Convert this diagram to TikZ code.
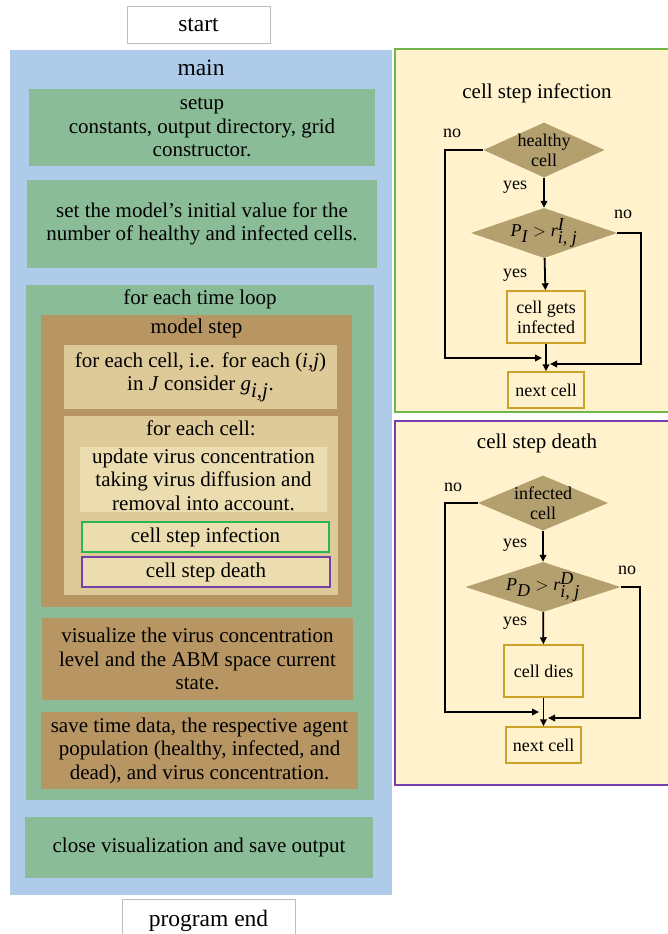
\documentclass[tikz,border=0pt]{standalone}
\usepackage{fontspec}
\setmainfont{Liberation Serif}
\usepackage{xcolor}
\usepackage{tikz}
\usetikzlibrary{positioning, arrows.meta, shapes.geometric}
\definecolor{mainblue}{RGB}{174,204,233}
\definecolor{loopgreen}{RGB}{139,188,152}
\definecolor{stepbrown}{RGB}{183,150,100}
\definecolor{tanlight}{RGB}{222,201,152}
\definecolor{tanpale}{RGB}{236,221,176}
\definecolor{panelcream}{RGB}{255,242,204}
\definecolor{diabrown}{RGB}{180,160,110}
\definecolor{boxgold}{RGB}{204,162,40}
\definecolor{infgreen}{RGB}{112,182,70}
\definecolor{callgreen}{RGB}{40,182,80}
\definecolor{deathpurple}{RGB}{118,64,170}
\definecolor{termgray}{RGB}{190,190,190}
\newcommand{\vit}[1]{\textit{#1}}

\begin{document}
\begin{tikzpicture}[x=1pt, y=-1pt,
  txt/.style={font=\fontsize{21}{23.5}\selectfont, align=center, inner sep=0pt},
  big/.style={font=\fontsize{23.5}{26}\selectfont, align=center, inner sep=0pt},
  sml/.style={font=\fontsize{18}{20}\selectfont, align=center, inner sep=0pt},
  wh/.style 2 args={minimum width=#1, minimum height=#2},
  term/.style={big, draw=termgray, line width=1pt, fill=white},
  grn/.style={txt, fill=loopgreen},
  brn/.style={txt, fill=stepbrown},
  tan/.style={txt, fill=tanlight},
  pale/.style={txt, fill=tanpale},
  panel/.style={fill=panelcream, line width=2pt},
  dia/.style={diamond, fill=diabrown, inner sep=0pt},
  res/.style={sml, draw=boxgold, line width=1.5pt, fill=panelcream},
  flow/.style={line width=1.8pt, -{Triangle[length=7pt, width=6.5pt]}}]
\useasboundingbox (0,0) rectangle (667,934);

% left column: main program
\node[term, wh={143}{37}] (start) at (198.5,25.5) {start};
\node[fill=mainblue, wh={382}{845}] (mainbox) at (201,472.5) {};
\node[big] (maintitle) at (201,68) {main};
\node[grn, wh={346}{77}] (setup) at (202,127.5) {setup\\constants, output directory, grid\\constructor.};
\node[grn, wh={350}{88}] (init) at (202,224) {set the model's initial value for the\\number of healthy and infected cells.};

\node[grn, wh={348}{515}] (loop) at (200,542.5) {};
\node[txt] (looptitle) at (200,299) {for each time loop};
\node[brn, wh={311}{292}] (mstep) at (196.5,461) {};
\node[txt] (msteptitle) at (196.5,328) {model step};
\node[tan, wh={273}{64}] (eachij) at (200.5,377) {for each cell, i.e. for each (\vit{i},\vit{j})\\in \vit{J} consider $\vit{g}_{\vit{i,j}}$.};
\node[tan, wh={274}{179}] (eachcell) at (201,505.5) {};
\node[txt] (eachtitle) at (201,428) {for each cell:};
\node[pale, wh={247}{65}] (update) at (203.5,479.5) {update virus concentration\\taking virus diffusion and\\removal into account.};
\node[pale, draw=callgreen, line width=1.2pt, wh={247}{30}] (callinf) at (205.5,537) {cell step infection};
\node[pale, draw=deathpurple, line width=1.2pt, wh={248}{30}] (calldeath) at (206,572) {cell step death};
\node[brn, wh={311}{82}] (visual) at (197.5,659) {visualize the virus concentration\\level and the ABM space current\\state.};
\node[brn, wh={317}{77}] (savedata) at (199.5,750.5) {save time data, the respective agent\\population (healthy, infected, and\\dead), and virus concentration.};
\node[grn, wh={348}{61}] (closeout) at (199,847.5) {close visualization and save output};
\node[term, wh={173}{44}] (progend) at (208.5,921) {program end};

% right column: cell step infection
\node[panel, draw=infgreen, wh={277}{363}] (infpanel) at (533.5,230.5) {};
\node[txt] (inftitle) at (537,93) {cell step infection};
\node[dia, wh={121}{55}, label={[sml]center:healthy\\cell}] (hcell) at (544,150) {};
\node[dia, wh={146}{50}, label={[sml]center:$\vit{P}_{\vit{I}} > \vit{r}^{\vit{I}}_{\vit{i, j}}$}] (pinf) at (544,233) {};
\node[res, wh={78}{52}] (getinf) at (546,317) {cell gets\\infected};
\node[res, wh={76}{36}] (next1) at (546,390) {next cell};
\node[sml] (no1) at (452,133) {no};
\node[sml] (yes1) at (515,187) {yes};
\node[sml] (no2) at (623,214) {no};
\node[sml] (yes2) at (515,275) {yes};
\coordinate (l1) at (445,358);
\coordinate (jl1) at (542,358);
\coordinate (r1) at (641,364);
\coordinate (jr1) at (550,364);
\draw[flow] (hcell) -- (pinf);
\draw[flow] (pinf) -- (getinf);
\draw[flow] (getinf) -- (next1);
\draw[flow] (hcell.west) -| (l1) -- (jl1);
\draw[flow] (pinf.east) -| (r1) -- (jr1);

% right column: cell step death
\node[panel, draw=deathpurple, wh={277}{364}] (deathpanel) at (533.5,603) {};
\node[txt] (deathtitle) at (537,443) {cell step death};
\node[dia, wh={130}{55}, label={[sml]center:infected\\cell}] (icell) at (543,503) {};
\node[dia, wh={155}{50}, label={[sml]center:$\vit{P}_{\vit{D}} > \vit{r}^{\vit{D}}_{\vit{i, j}}$}] (pdeath) at (543,587) {};
\node[res, wh={79}{52}] (dies) at (543.5,671) {cell dies};
\node[res, wh={75}{36}] (next2) at (543.5,745) {next cell};
\node[sml] (no3) at (453,487) {no};
\node[sml] (yes3) at (515,545) {yes};
\node[sml] (no4) at (627,570) {no};
\node[sml] (yes4) at (515,623) {yes};
\coordinate (l2) at (445,712);
\coordinate (jl2) at (539,712);
\coordinate (r2) at (640,718);
\coordinate (jr2) at (548,718);
\draw[flow] (icell) -- (pdeath);
\draw[flow] (pdeath) -- (dies);
\draw[flow] (dies) -- (next2);
\draw[flow] (icell.west) -| (l2) -- (jl2);
\draw[flow] (pdeath.east) -| (r2) -- (jr2);
\end{tikzpicture}
\end{document}
